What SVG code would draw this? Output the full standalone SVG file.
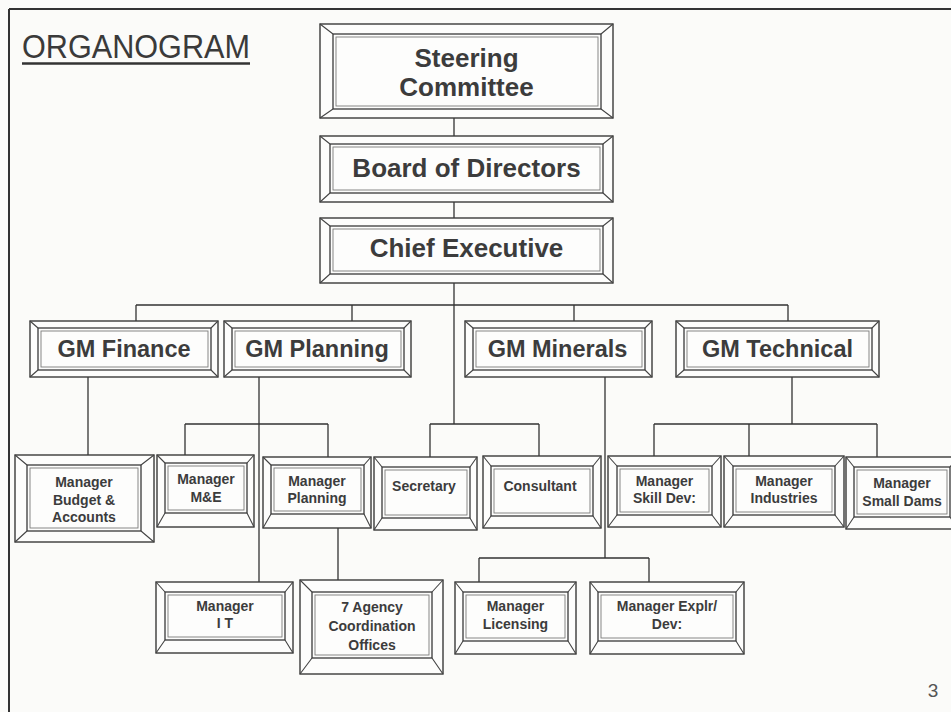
<svg xmlns="http://www.w3.org/2000/svg" width="951" height="712" viewBox="0 0 951 712">
<style>
.bg{fill:#fbfbf9}
.o{fill:#fdfdfc;stroke:#3a3a3a;stroke-width:1.4}
.i{fill:none;stroke:#3a3a3a;stroke-width:1.3}
.i2{fill:none;stroke:#7a7a7a;stroke-width:0.9}
.d{fill:none;stroke:#444;stroke-width:1.1}
.c{fill:none;stroke:#333;stroke-width:1.3}
.t{font-family:"Liberation Sans",Arial,sans-serif;font-weight:bold;fill:#3c3c3c;text-anchor:middle}
.big{font-size:26px}
.gm{font-size:23.5px}
.sm{font-size:14px}
</style>
<rect class="bg" x="0" y="0" width="951" height="712"/>
<g id="page-border">
<path d="M9 9H951M9 9V712" fill="none" stroke="#333" stroke-width="2"/>
</g>
<g id="title">
<text x="22" y="58" font-family="'Liberation Sans',Arial,sans-serif" font-size="34" fill="#3a3a3a" textLength="228" lengthAdjust="spacingAndGlyphs">ORGANOGRAM</text>
<line x1="22" y1="63.5" x2="250" y2="63.5" stroke="#333" stroke-width="2.5"/>
</g>
<g id="connectors">
<path class="c" d="M454 118V136M454 202V218M454 283V424"/>
<path class="c" d="M136 305H788M136 305V321M352 305V321M574 305V321M788 305V321"/>
<path class="c" d="M88 377V455"/>
<path class="c" d="M259 377V582M185 424H328M185 424V455M328 424V457M338 528V580"/>
<path class="c" d="M430 424H539M430 424V457M539 424V456"/>
<path class="c" d="M605 377V558M479 558H649M479 558V582M649 558V582"/>
<path class="c" d="M792 377V424M654 424H877M654 424V456M749 424V456M877 424V457"/>
</g>
<g id="steering">
<rect class="o" x="320" y="24" width="293" height="94"/>
<rect class="i" x="333" y="34" width="268" height="75"/>
<rect class="i2" x="336" y="37" width="262" height="69"/>
<path class="d" d="M320 24L333 34M613 24L601 34M320 118L333 109M613 118L601 109"/>
<text class="t big" x="466.5" y="67">Steering</text>
<text class="t big" x="466.5" y="96">Committee</text>
</g>
<g id="board">
<rect class="o" x="320" y="136" width="293" height="66"/>
<rect class="i" x="330" y="144" width="273" height="49"/>
<rect class="i2" x="333" y="147" width="267" height="43"/>
<path class="d" d="M320 136L330 144M613 136L603 144M320 202L330 193M613 202L603 193"/>
<text class="t big" x="466.5" y="177">Board of Directors</text>
</g>
<g id="chief">
<rect class="o" x="320" y="218" width="293" height="65"/>
<rect class="i" x="330" y="226" width="273" height="48"/>
<rect class="i2" x="333" y="229" width="267" height="42"/>
<path class="d" d="M320 218L330 226M613 218L603 226M320 283L330 274M613 283L603 274"/>
<text class="t big" x="466.5" y="257">Chief Executive</text>
</g>
<g id="gm-finance">
<rect class="o" x="30" y="321" width="188" height="56"/>
<rect class="i" x="38" y="328" width="173" height="42"/>
<rect class="i2" x="41" y="331" width="167" height="36"/>
<path class="d" d="M30 321L38 328M218 321L211 328M30 377L38 370M218 377L211 370"/>
<text class="t gm" x="124" y="357">GM Finance</text>
</g>
<g id="gm-planning">
<rect class="o" x="224" y="321" width="187" height="56"/>
<rect class="i" x="232" y="328" width="172" height="42"/>
<rect class="i2" x="235" y="331" width="166" height="36"/>
<path class="d" d="M224 321L232 328M411 321L404 328M224 377L232 370M411 377L404 370"/>
<text class="t gm" x="317" y="357">GM Planning</text>
</g>
<g id="gm-minerals">
<rect class="o" x="465" y="321" width="187" height="56"/>
<rect class="i" x="473" y="328" width="172" height="42"/>
<rect class="i2" x="476" y="331" width="166" height="36"/>
<path class="d" d="M465 321L473 328M652 321L645 328M465 377L473 370M652 377L645 370"/>
<text class="t gm" x="557.5" y="357">GM Minerals</text>
</g>
<g id="gm-technical">
<rect class="o" x="676" y="321" width="203" height="56"/>
<rect class="i" x="684" y="328" width="188" height="42"/>
<rect class="i2" x="687" y="331" width="182" height="36"/>
<path class="d" d="M676 321L684 328M879 321L872 328M676 377L684 370M879 377L872 370"/>
<text class="t gm" x="777.5" y="357">GM Technical</text>
</g>
<g id="mgr-budget">
<rect class="o" x="15" y="455" width="139" height="87"/>
<rect class="i" x="27" y="465" width="114" height="66"/>
<rect class="i2" x="30" y="468" width="108" height="60"/>
<path class="d" d="M15 455L27 465M154 455L141 465M15 542L27 531M154 542L141 531"/>
<text class="t sm" x="84" y="487">Manager</text>
<text class="t sm" x="84" y="504.5">Budget &amp;</text>
<text class="t sm" x="84" y="522">Accounts</text>
</g>
<g id="mgr-me">
<rect class="o" x="157" y="455" width="97" height="72"/>
<rect class="i" x="165" y="463" width="82" height="50"/>
<rect class="i2" x="168" y="466" width="76" height="44"/>
<path class="d" d="M157 455L165 463M254 455L247 463M157 527L165 513M254 527L247 513"/>
<text class="t sm" x="206" y="484">Manager</text>
<text class="t sm" x="206" y="502">M&amp;E</text>
</g>
<g id="mgr-planning">
<rect class="o" x="263" y="457" width="108" height="71"/>
<rect class="i" x="271" y="465" width="93" height="49"/>
<rect class="i2" x="274" y="468" width="87" height="43"/>
<path class="d" d="M263 457L271 465M371 457L364 465M263 528L271 514M371 528L364 514"/>
<text class="t sm" x="317" y="486">Manager</text>
<text class="t sm" x="317" y="503">Planning</text>
</g>
<g id="secretary">
<rect class="o" x="374" y="457" width="103" height="73"/>
<rect class="i" x="382" y="467" width="88" height="51"/>
<rect class="i2" x="385" y="470" width="82" height="45"/>
<path class="d" d="M374 457L382 467M477 457L470 467M374 530L382 518M477 530L470 518"/>
<text class="t sm" x="424" y="491">Secretary</text>
</g>
<g id="consultant">
<rect class="o" x="483" y="456" width="118" height="72"/>
<rect class="i" x="491" y="466" width="102" height="50"/>
<rect class="i2" x="494" y="469" width="96" height="44"/>
<path class="d" d="M483 456L491 466M601 456L593 466M483 528L491 516M601 528L593 516"/>
<text class="t sm" x="540" y="491">Consultant</text>
</g>
<g id="mgr-skill">
<rect class="o" x="608" y="456" width="113" height="71"/>
<rect class="i" x="617" y="466" width="95" height="49"/>
<rect class="i2" x="620" y="469" width="89" height="43"/>
<path class="d" d="M608 456L617 466M721 456L712 466M608 527L617 515M721 527L712 515"/>
<text class="t sm" x="664.5" y="486">Manager</text>
<text class="t sm" x="664.5" y="503">Skill Dev:</text>
</g>
<g id="mgr-industries">
<rect class="o" x="724" y="456" width="120" height="71"/>
<rect class="i" x="733" y="466" width="102" height="49"/>
<rect class="i2" x="736" y="469" width="96" height="43"/>
<path class="d" d="M724 456L733 466M844 456L835 466M724 527L733 515M844 527L835 515"/>
<text class="t sm" x="784" y="486">Manager</text>
<text class="t sm" x="784" y="503">Industries</text>
</g>
<g id="mgr-smalldams">
<rect class="o" x="846" y="457" width="112" height="72"/>
<rect class="i" x="854" y="467" width="96" height="50"/>
<rect class="i2" x="857" y="470" width="90" height="44"/>
<path class="d" d="M846 457L854 467M958 457L950 467M846 529L854 517M958 529L950 517"/>
<text class="t sm" x="902" y="488">Manager</text>
<text class="t sm" x="902" y="506">Small Dams</text>
</g>
<g id="mgr-it">
<rect class="o" x="156" y="582" width="137" height="71"/>
<rect class="i" x="165" y="592" width="120" height="48"/>
<rect class="i2" x="168" y="595" width="114" height="42"/>
<path class="d" d="M156 582L165 592M293 582L285 592M156 653L165 640M293 653L285 640"/>
<text class="t sm" x="225" y="611">Manager</text>
<text class="t sm" x="225" y="628">I T</text>
</g>
<g id="agency-offices">
<rect class="o" x="300" y="580" width="143" height="94"/>
<rect class="i" x="312" y="592" width="120" height="66"/>
<rect class="i2" x="315" y="595" width="114" height="60"/>
<path class="d" d="M300 580L312 592M443 580L432 592M300 674L312 658M443 674L432 658"/>
<text class="t sm" x="372" y="612">7 Agency</text>
<text class="t sm" x="372" y="631">Coordination</text>
<text class="t sm" x="372" y="650">Offices</text>
</g>
<g id="mgr-licensing">
<rect class="o" x="455" y="582" width="121" height="72"/>
<rect class="i" x="463" y="592" width="105" height="49"/>
<rect class="i2" x="466" y="595" width="99" height="43"/>
<path class="d" d="M455 582L463 592M576 582L568 592M455 654L463 641M576 654L568 641"/>
<text class="t sm" x="515.5" y="611">Manager</text>
<text class="t sm" x="515.5" y="629">Licensing</text>
</g>
<g id="mgr-explr">
<rect class="o" x="590" y="582" width="154" height="72"/>
<rect class="i" x="598" y="592" width="138" height="49"/>
<rect class="i2" x="601" y="595" width="132" height="43"/>
<path class="d" d="M590 582L598 592M744 582L736 592M590 654L598 641M744 654L736 641"/>
<text class="t sm" x="667" y="611">Manager Explr/</text>
<text class="t sm" x="667" y="629">Dev:</text>
</g>
<text x="933" y="697" font-family="'Liberation Sans',Arial,sans-serif" font-size="19" fill="#555" text-anchor="middle">3</text>
</svg>
